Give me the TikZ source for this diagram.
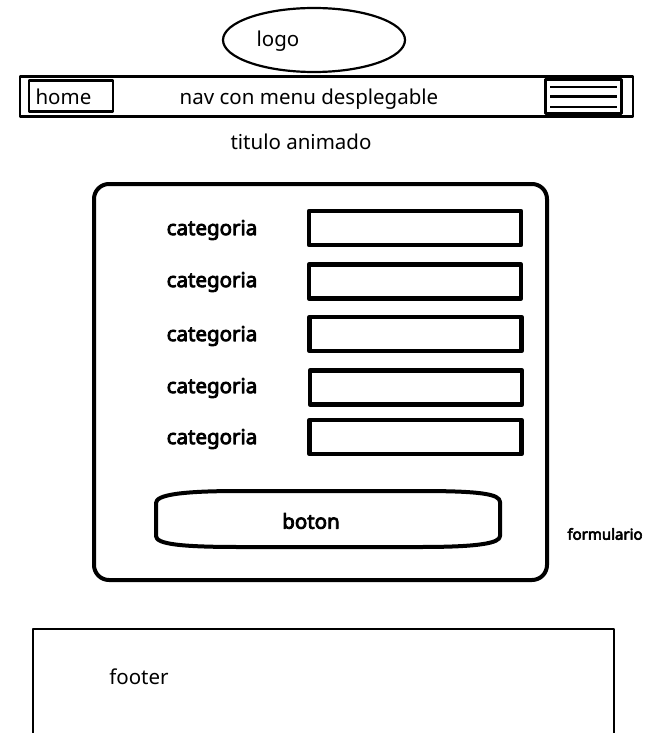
\documentclass[tikz,border=0pt]{standalone}
\usepackage{fontspec}
\setmainfont{Noto Sans}[AutoFakeBold=4]
\usetikzlibrary{shapes,positioning}

\begin{document}
\begin{tikzpicture}[x=1pt, y=-1pt, line join=round,
	txt/.style={font=\fontsize{20.5}{22}\selectfont},
	cat/.style={font=\fontsize{20.5}{22}\selectfont\bfseries},
	field/.style={draw, line width=4.5pt, minimum width=212pt, minimum height=34pt, inner sep=0pt},
	thin/.style={draw, line width=2.2pt, inner sep=0pt}]
			\useasboundingbox (0,0) rectangle (654,733);
			% cabecera
			\node[thin, ellipse, minimum width=182pt, minimum height=64pt] (logo) at (314,40) {};
			\node[txt] (logot) at (278,41) {logo};
			\node[thin, line width=2.8pt, minimum width=613pt, minimum height=40pt] (nav) at (326.5,96.5) {};
			\node[thin, minimum width=84pt, minimum height=31pt] (home) at (71,96) {};
			\node[txt, anchor=west] (homet) at (32,97) {home};
			\node[txt] (navt) at (309,99) {nav con menu desplegable};
			\node[thin, line width=2.6pt, minimum width=76pt, minimum height=34pt] (menu) at (583.5,96.5) {};
			\draw[line width=2.4pt] ([xshift=6pt,yshift=-9pt]menu.north west) -- ([xshift=-6pt,yshift=-9pt]menu.north east);
			\draw[line width=2.4pt] ([xshift=6pt]menu.west) -- ([xshift=-6pt]menu.east);
			\draw[line width=2.4pt] ([xshift=6pt,yshift=8pt]menu.south west) -- ([xshift=-6pt,yshift=8pt]menu.south east);
			\node[txt] (titulo) at (301,142) {titulo animado};
			% formulario
			\draw[line width=4pt, rounded corners=15pt] (94,184) rectangle (547,580);
			\node[field] (in1) at (415,228) {};
			\node[field] (in2) at (415,281.5) {};
			\node[field] (in3) at (415.5,334) {};
			\node[field] (in4) at (416,387.5) {};
			\node[field] (in5) at (415.5,437) {};
			\node[cat] (c1) at (212,230) {categoria};
			\node[cat] (c2) at (212,282) {categoria};
			\node[cat] (c3) at (212,336) {categoria};
			\node[cat] (c4) at (212,388) {categoria};
			\node[cat] (c5) at (212,439) {categoria};
			\draw[line width=4pt] (156,536) -- (156,503) .. controls (156,495) and (180,491) .. (240,491)
				-- (420,491) .. controls (480,491) and (500,494) .. (500,502) -- (500,536)
				.. controls (500,543) and (480,547) .. (420,547) -- (240,547)
				.. controls (180,547) and (156,544) .. cycle;
			\node[cat] (boton) at (311,521) {boton};
			\node[font=\fontsize{15}{17}\selectfont\bfseries] (form) at (605,534) {formulario};
			% pie
			\draw[line width=2.2pt] (33,740) |- (614,629) -- (614,740);
			\node[txt] (footer) at (139,677) {footer};
		\end{tikzpicture}
\end{document}
